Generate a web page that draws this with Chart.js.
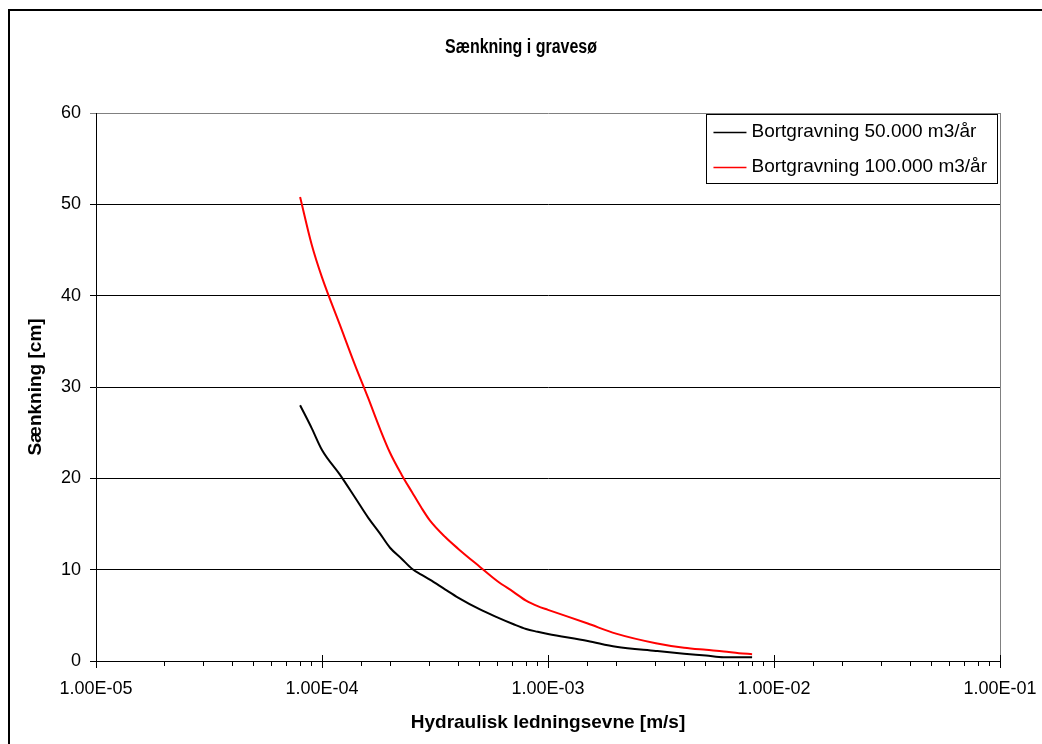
<!DOCTYPE html>
<html>
<head>
<meta charset="utf-8">
<title>Sænkning i gravesø</title>
<script src="https://cdn.jsdelivr.net/npm/chart.js@4.4.0/dist/chart.umd.min.js"></script>
<style>
    html, body { margin: 0; padding: 0; background: #fff; }
    #wrap { width: 1042px; height: 744px; }
</style>
</head>
<body>
<div id="wrap"><canvas id="chart" width="1042" height="744"></canvas></div>
<script>
// Hydraulisk ledningsevne (m/s) - shared x values for both series
const conductivity = [
    8e-5, 9e-5, 1e-4, 1.2e-4, 1.4e-4, 1.6e-4, 1.8e-4, 2e-4, 2.25e-4, 2.5e-4,
    2.75e-4, 3e-4, 3.5e-4, 4e-4, 5e-4, 6e-4, 7e-4, 8e-4, 9e-4, 1e-3,
    1.5e-3, 2e-3, 3e-3, 4e-3, 5e-3, 6e-3, 7e-3, 8e-3
];

// Sænkning (cm) for 50.000 m3/år
const drawdown50k = [
    28.0, 25.5, 23.1, 20.4, 17.9, 15.7, 14.0, 12.4, 11.2, 10.1,
    9.45, 8.9, 7.85, 6.95, 5.65, 4.75, 4.05, 3.5, 3.2, 2.96,
    2.2, 1.55, 1.1, 0.8, 0.6, 0.42, 0.4, 0.4
];

// Sænkning (cm) for 100.000 m3/år
const drawdown100k = [
    50.8, 45.6, 42.0, 36.8, 32.4, 28.8, 25.5, 22.8, 20.4, 18.5,
    16.8, 15.4, 13.6, 12.3, 10.3, 8.7, 7.6, 6.6, 6.0, 5.6,
    4.1, 3.0, 1.95, 1.45, 1.22, 1.05, 0.85, 0.75
];

const seriesLabels = ['Bortgravning 50.000 m3/år', 'Bortgravning 100.000 m3/år'];
const seriesColors = ['#000000', '#ff0000'];

// Axis range / tick labels
const xDecades = [1e-5, 1e-4, 1e-3, 1e-2, 1e-1];
const yTicks = [0, 10, 20, 30, 40, 50, 60];

const chartTitle = 'Sænkning i gravesø';
const xTitle = 'Hydraulisk ledningsevne [m/s]';
const yTitle = 'Sænkning [cm]';

const FONT = '"Liberation Sans", Arial, sans-serif';
Chart.defaults.font.family = FONT;
Chart.defaults.color = '#000';

// Format decade ticks like Excel: 1.00E-05
function formatSci(value) {
    const exp = Math.round(Math.log10(value));
    if (Math.abs(Math.log10(value) - exp) > 1e-6) return '';
    const mant = (value / Math.pow(10, exp)).toFixed(2);
    const sign = exp < 0 ? '-' : '+';
    return mant + 'E' + sign + String(Math.abs(exp)).padStart(2, '0');
}

function toPoints(values) {
    return values.map((v, i) => ({ x: conductivity[i], y: v }));
}

// Title, outer frame, plot border, major tick crossings and legend box
const decorPlugin = {
    id: 'decor',
    afterDraw(chart) {
        const ctx = chart.ctx;
        const area = chart.chartArea;
        const xScale = chart.scales.x;
        ctx.save();

        // outer frame (only left and top visible)
        ctx.strokeStyle = '#000';
        ctx.lineWidth = 2;
        ctx.beginPath();
        ctx.moveTo(9, 744);
        ctx.lineTo(9, 10);
        ctx.lineTo(1042, 10);
        ctx.stroke();

        // grey right border of plot area
        ctx.lineWidth = 1;
        ctx.strokeStyle = '#808080';
        ctx.beginPath();
        ctx.moveTo(Math.round(area.right) + 0.5, area.top);
        ctx.lineTo(Math.round(area.right) + 0.5, area.bottom);
        ctx.stroke();

        // major ticks cross the axis
        ctx.strokeStyle = '#000';
        xDecades.forEach(v => {
            const px = Math.round(xScale.getPixelForValue(v)) + 0.5;
            ctx.beginPath();
            ctx.moveTo(px, area.bottom - 6);
            ctx.lineTo(px, area.bottom + 7);
            ctx.stroke();
        });

        // title (narrow bold, like the original)
        ctx.save();
        ctx.fillStyle = '#000';
        ctx.font = 'bold 20px ' + FONT;
        ctx.textAlign = 'center';
        ctx.textBaseline = 'middle';
        ctx.translate(chart.width / 2, 47);
        ctx.scale(0.8, 1);
        ctx.fillText(chartTitle, 0, 0);
        ctx.restore();

        // legend
        ctx.font = '19px ' + FONT;
        ctx.textBaseline = 'middle';
        const widths = chart.data.datasets.map(d => ctx.measureText(d.label).width);
        const boxRight = 997;
        const textLeft = boxRight - 10 - Math.max(...widths);
        const boxLeft = textLeft - 45;
        const boxTop = 114;
        const rowH = 34.5;
        ctx.fillStyle = '#fff';
        ctx.fillRect(boxLeft, boxTop, boxRight - boxLeft, rowH * 2);
        ctx.lineWidth = 1;
        ctx.strokeStyle = '#000';
        ctx.strokeRect(Math.round(boxLeft) + 0.5, boxTop + 0.5, Math.round(boxRight - boxLeft), rowH * 2);
        chart.data.datasets.forEach((d, i) => {
            const cy = boxTop + rowH * i + rowH / 2 + 1;
            ctx.strokeStyle = d.borderColor;
            ctx.lineWidth = 1.5;
            ctx.beginPath();
            ctx.moveTo(boxLeft + 7, Math.round(cy) + 0.5);
            ctx.lineTo(textLeft - 5, Math.round(cy) + 0.5);
            ctx.stroke();
            ctx.fillStyle = '#000';
            ctx.textAlign = 'left';
            ctx.fillText(d.label, textLeft, cy);
        });

        ctx.restore();
    }
};

const ctx = document.getElementById('chart').getContext('2d');
new Chart(ctx, {
    type: 'line',
    data: {
        datasets: [
            {
                label: seriesLabels[0],
                data: toPoints(drawdown50k),
                borderColor: seriesColors[0],
                borderWidth: 2,
                pointRadius: 0,
                cubicInterpolationMode: 'monotone',
                fill: false
            },
            {
                label: seriesLabels[1],
                data: toPoints(drawdown100k),
                borderColor: seriesColors[1],
                borderWidth: 2,
                pointRadius: 0,
                cubicInterpolationMode: 'monotone',
                fill: false
            }
        ]
    },
    options: {
        responsive: false,
        animation: false,
        devicePixelRatio: 1,
        layout: {
            padding: { top: 113, left: 16, right: 42, bottom: 0 }
        },
        plugins: {
            legend: { display: false },
            title: { display: false },
            tooltip: { enabled: false }
        },
        scales: {
            x: {
                type: 'logarithmic',
                min: xDecades[0],
                max: xDecades[xDecades.length - 1],
                afterFit: scale => {
                    scale.height = 83;
                    scale.paddingLeft = 0;
                    scale.paddingRight = 0;
                },
                border: { color: '#000', width: 1 },
                grid: {
                    drawOnChartArea: false,
                    drawTicks: true,
                    tickLength: 5,
                    color: '#000'
                },
                ticks: {
                    autoSkip: false,
                    maxRotation: 0,
                    padding: 12,
                    font: { size: 18 },
                    callback: value => formatSci(value)
                },
                title: {
                    display: true,
                    text: xTitle,
                    font: { size: 19, weight: 'bold' },
                    padding: 10
                }
            },
            y: {
                min: yTicks[0],
                max: yTicks[yTicks.length - 1],
                afterFit: scale => { scale.width = 80; },
                afterBuildTicks: scale => { scale.ticks = yTicks.map(v => ({ value: v })); },
                border: { color: '#000', width: 1 },
                grid: {
                    drawTicks: true,
                    tickLength: 6,
                    color: c => (c.tick && c.tick.value === yTicks[yTicks.length - 1]) ? '#808080' : '#000',
                    lineWidth: 1
                },
                ticks: {
                    padding: 9,
                    font: { size: 18 }
                },
                title: {
                    display: true,
                    text: yTitle,
                    font: { size: 19, weight: 'bold' },
                    padding: 8
                }
            }
        }
    },
    plugins: [decorPlugin]
});
</script>
</body>
</html>
